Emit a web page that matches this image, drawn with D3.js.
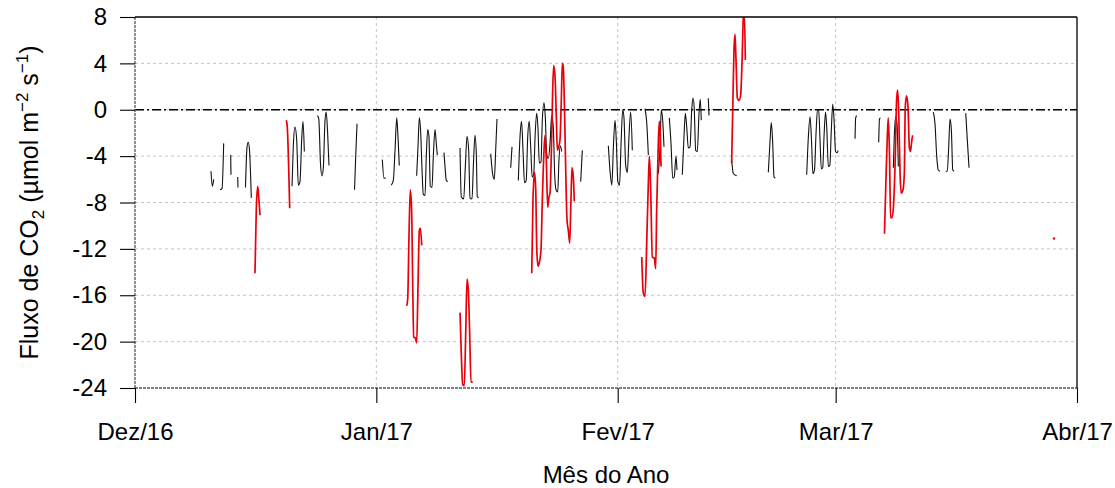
<!DOCTYPE html>
<html>
<head>
<meta charset="utf-8">
<script src="https://cdn.jsdelivr.net/npm/d3@7"></script>
<style>
    body { margin: 0; background: #fff; }
    text { font-family: "Liberation Sans", Arial, sans-serif; }
</style>
</head>
<body>
<div id="chart"></div>
<script>
///// DATOS //////
//Meses del eje X
let mesesLabels = ['Dez/16', 'Jan/17', 'Fev/17', 'Mar/17', 'Abr/17'];
let mesesFechas = ['2016-12-01', '2017-01-01', '2017-02-01', '2017-03-01', '2017-04-01'];
let yTicks = [-24, -20, -16, -12, -8, -4, 0, 4, 8];

//Fluxo observado (preto) > segmentos [dias desde 01/12/2016, µmol m-2 s-1]
let fluxoPreto = [
    [[9.76,-5.3],[9.93,-6.6],[10.11,-6.0]],
    [[10.92,-6.9],[11.18,-6.8],[11.39,-2.9]],
    [[12.29,-3.9],[12.33,-5.6]],
    [[13.19,-5.8],[13.23,-6.7]],
    [[14.19,-6.7],[14.39,-3.2],[14.55,-2.8],[14.71,-3.5],[14.94,-7.6]],
    [[20.17,-6.6],[20.33,-3.2],[20.55,-1.5],[20.77,-2.6],[20.98,-6.5],[21.19,-6.2],[21.41,-2.6],[21.58,-1.0],[21.75,-3.6]],
    [[23.44,-0.5],[23.61,-0.8],[23.83,-4.7],[24.02,-5.7],[24.19,-5.0],[24.41,-0.9],[24.56,-0.2],[24.73,-1.8],[24.92,-4.8]],
    [[28.20,-6.9],[28.35,-4.0],[28.52,-1.2]],
    [[31.77,-4.3],[31.98,-5.9],[32.20,-5.9]],
    [[32.92,-6.5],[33.18,-6.1],[33.40,-3.5],[33.62,-0.7],[33.78,-2.3],[33.95,-4.8]],
    [[36.18,-5.7],[36.35,-3.2],[36.52,-0.7],[36.70,-2.0],[36.87,-5.2],[37.03,-7.3],[37.25,-7.4],[37.42,-4.0],[37.60,-1.7],[37.76,-2.3],[37.93,-6.6],[38.15,-6.7],[38.32,-4.0],[38.54,-1.7],[38.70,-2.9],[38.83,-3.9]],
    [[39.69,-3.7],[39.82,-4.9],[39.99,-6.1],[40.17,-6.2]],
    [[41.75,-3.3],[41.91,-7.5],[42.22,-7.7],[42.43,-4.9],[42.65,-2.3],[42.86,-3.5],[43.03,-7.6],[43.29,-7.7],[43.46,-4.9],[43.67,-2.2],[43.84,-3.8],[43.97,-7.5],[44.15,-7.6]],
    [[45.69,-3.8],[45.95,-5.6],[46.15,-6.0],[46.33,-3.5],[46.50,-0.8]],
    [[48.26,-5.0],[48.43,-3.2]],
    [[49.24,-6.1],[49.45,-2.4],[49.65,-1.0],[49.84,-3.5],[50.03,-6.3],[50.25,-6.1],[50.44,-2.4],[50.64,-1.0],[50.83,-3.3],[51.02,-5.8],[51.21,-5.6],[51.41,-2.0],[51.60,-0.3],[51.77,-1.7],[51.93,-4.6],[52.15,-4.5],[52.32,-0.9],[52.54,0.6],[52.70,-0.6],[52.88,-3.8],[53.09,-4.2],[53.31,-2.9],[53.52,-0.5],[53.73,-1.5],[53.91,-5.6],[54.08,-6.9],[54.30,-7.1],[54.46,-4.3],[54.63,-3.1],[54.81,-3.6]],
    [[57.25,-6.2],[57.46,-3.5]],
    [[60.80,-3.1],[61.01,-5.2],[61.25,-6.5],[61.46,-3.0],[61.66,-0.9],[61.82,-2.6],[62.02,-6.2],[62.24,-6.5],[62.43,-3.0],[62.65,0.0],[62.81,-0.7],[63.03,-4.8],[63.24,-5.4],[63.46,-2.2],[63.67,-0.2],[63.88,-3.5]],
    [[65.51,0.1],[65.73,-1.1],[65.94,-3.9]],
    [[67.22,-5.5],[67.44,-3.2],[67.60,0.0],[67.78,-0.9],[67.95,-3.2]],
    [[68.63,-0.7],[68.85,-2.9],[69.07,-5.9],[69.27,-5.8],[69.49,-4.0],[69.62,-5.2]],
    [[70.30,-5.6],[70.52,-2.3],[70.69,-0.3],[70.87,-1.5],[71.07,-3.3],[71.29,-3.2],[71.51,0.0],[71.68,1.0],[71.84,0.0],[72.02,-3.5],[72.23,-3.6],[72.45,-0.3],[72.61,0.9],[72.74,-0.9]],
    [[73.64,1.0],[73.73,-0.5]],
    [[76.64,-4.3],[76.85,-5.5],[77.29,-5.7]],
    [[81.35,-5.4],[81.57,-2.7],[81.73,-1.1],[81.91,-2.8],[82.08,-5.8],[82.25,-5.9]],
    [[86.28,-5.6],[86.49,-2.4],[86.71,-0.6],[86.90,-2.7],[87.07,-5.5],[87.28,-5.2],[87.48,-2.0],[87.67,0.0],[87.82,0.0],[87.99,-2.6],[88.16,-5.1],[88.34,-5.0],[88.50,-2.4],[88.70,-0.2],[88.86,-1.6],[89.06,-4.9],[89.25,-4.8],[89.44,-1.8],[89.63,0.5],[89.81,-1.1],[89.98,-3.6],[90.17,-3.7],[90.34,-3.5]],
    [[92.49,-2.5],[92.57,-0.7],[92.70,-0.5]],
    [[95.53,-2.8],[95.63,-0.8],[95.76,-0.7]],
    [[97.41,-5.0],[97.53,-2.3],[97.71,-0.6],[97.88,-1.2],[98.05,-4.9]],
    [[102.54,-0.2],[102.76,-1.2],[102.98,-4.0],[103.18,-5.2],[103.40,-5.3]],
    [[104.14,-5.3],[104.34,-5.3],[104.52,-3.2],[104.69,-0.8],[104.86,-1.7],[105.04,-5.2],[105.20,-5.3]],
    [[106.71,-0.3],[106.91,-2.6],[107.13,-5.0]]
];

//Fluxo preenchido (vermelho)
let fluxoVermelho = [
    [[15.41,-14.1],[15.58,-8.6],[15.76,-6.6],[15.89,-7.5],[16.06,-9.1]],
    [[19.44,-0.9],[19.56,-1.5],[19.87,-8.5]],
    [[34.90,-16.9],[35.03,-16.3],[35.20,-10.7],[35.36,-6.9],[35.54,-8.7],[35.67,-15.0],[35.80,-19.6],[36.01,-19.7],[36.18,-20.1],[36.35,-15.3],[36.52,-10.4],[36.65,-10.2],[36.83,-11.7]],
    [[41.75,-17.5],[41.91,-21.0],[42.09,-23.7],[42.30,-23.8],[42.48,-19.3],[42.65,-14.6],[42.81,-15.5],[42.99,-19.3],[43.16,-23.5],[43.38,-23.5]],
    [[50.96,-14.1],[51.12,-7.8],[51.32,-5.4],[51.47,-6.8],[51.61,-12.1],[51.77,-13.5],[51.93,-13.2],[52.15,-12.1],[52.32,-7.8],[52.54,-3.5],[52.67,-2.2],[52.83,-4.3],[53.01,-8.4],[53.18,-7.5],[53.31,-7.2],[53.47,-4.0],[53.65,1.7],[53.78,3.8],[53.95,2.9],[54.12,-0.6],[54.25,-3.5],[54.42,-3.2],[54.59,-2.6],[54.76,0.8],[54.89,4.0],[55.01,3.7],[55.19,-0.6],[55.36,-6.3],[55.49,-9.5],[55.66,-10.4],[55.84,-11.5],[56.00,-7.8],[56.13,-5.0],[56.30,-5.8],[56.43,-7.9]],
    [[65.09,-12.7],[65.29,-15.8],[65.51,-16.1],[65.73,-11.5],[65.94,-6.3],[66.07,-4.0],[66.24,-6.9],[66.45,-12.7],[66.71,-12.8],[66.88,-13.7],[67.01,-8.6],[67.22,-2.9],[67.35,-1.0],[67.48,-2.3],[67.57,-4.9]],
    [[76.64,-4.6],[76.78,0.0],[76.94,5.2],[77.07,6.5],[77.20,4.3],[77.37,1.0],[77.59,0.8],[77.80,1.3],[77.97,4.0],[78.14,7.9],[78.27,8.3],[78.40,4.3]],
    [[96.27,-10.7],[96.44,-6.5],[96.64,-2.2],[96.76,-0.7],[96.92,-4.0],[97.05,-9.3],[97.24,-9.3],[97.43,-8.3],[97.62,-5.0],[97.84,1.0],[97.97,1.7],[98.10,-0.2],[98.27,-5.5],[98.43,-7.2],[98.65,-6.9],[98.82,-5.5],[98.94,0.2],[99.10,1.2],[99.29,0.3],[99.46,-3.2],[99.61,-3.6],[99.77,-2.7],[99.89,-2.2]],
    [[118.05,-11.1]]
];

///// VISUALIZACIÓN DEL GRÁFICO //////
let margin = {top: 17, right: 38, bottom: 100, left: 135};
let width = 1115 - margin.left - margin.right,
    height = 488 - margin.top - margin.bottom;

let inicio = Date.UTC(2016, 11, 1);
function aFecha(dias) { return new Date(inicio + dias * 864e5); }

let svg = d3.select('#chart')
    .append('svg')
    .attr('width', 1115)
    .attr('height', 488);

let chart = svg.append('g')
    .attr('transform', 'translate(' + margin.left + ',' + margin.top + ')');

//Escalas
let x_c = d3.scaleUtc()
    .domain([new Date(mesesFechas[0]), new Date(mesesFechas[mesesFechas.length - 1])])
    .range([0, width]);

let y_c = d3.scaleLinear()
    .domain([-24, 8])
    .range([height, 0]);

//Rejilla
chart.append('g')
    .selectAll('line')
    .data(yTicks.filter(function(d) { return d > -24 && d < 8; }))
    .enter()
    .append('line')
    .attr('x1', 0).attr('x2', width)
    .attr('y1', function(d) { return y_c(d); })
    .attr('y2', function(d) { return y_c(d); })
    .attr('stroke', '#c4c4c4')
    .attr('stroke-dasharray', '3,3');

chart.append('g')
    .selectAll('line')
    .data(mesesFechas.slice(1, -1))
    .enter()
    .append('line')
    .attr('x1', function(d) { return x_c(new Date(d)); })
    .attr('x2', function(d) { return x_c(new Date(d)); })
    .attr('y1', 0).attr('y2', height)
    .attr('stroke', '#c4c4c4')
    .attr('stroke-dasharray', '3,3');

//Línea de cero
chart.append('line')
    .attr('x1', 0).attr('x2', width)
    .attr('y1', y_c(0)).attr('y2', y_c(0))
    .attr('stroke', '#000')
    .attr('stroke-width', 1.5)
    .attr('stroke-dasharray', '9,3,2,3');

//Clip del área del gráfico
svg.append('defs').append('clipPath')
    .attr('id', 'clip')
    .append('rect')
    .attr('width', width)
    .attr('height', height);

let line = d3.line()
    .x(function(d) { return x_c(aFecha(d[0])); })
    .y(function(d) { return y_c(d[1]); })
    .curve(d3.curveMonotoneX);

let series = chart.append('g').attr('clip-path', 'url(#clip)');

series.selectAll('.line-preto')
    .data(fluxoPreto)
    .enter()
    .append('path')
    .attr('class', 'line-preto')
    .attr('fill', 'none')
    .attr('stroke', '#111')
    .attr('stroke-width', 1.1)
    .attr('d', line);

series.selectAll('.line-vermelho')
    .data(fluxoVermelho.filter(function(s) { return s.length > 1; }))
    .enter()
    .append('path')
    .attr('class', 'line-vermelho')
    .attr('fill', 'none')
    .attr('stroke', '#e8000b')
    .attr('stroke-width', 1.7)
    .attr('d', line);

series.selectAll('.punto-vermelho')
    .data(fluxoVermelho.filter(function(s) { return s.length == 1; }))
    .enter()
    .append('circle')
    .attr('class', 'punto-vermelho')
    .attr('cx', function(s) { return x_c(aFecha(s[0][0])); })
    .attr('cy', function(s) { return y_c(s[0][1]); })
    .attr('r', 1.2)
    .attr('fill', '#e8000b');

//Marco: izquierda e inferior punteados oscuros, arriba y derecha continuos
chart.append('line')
    .attr('x1', 0).attr('x2', width).attr('y1', height).attr('y2', height)
    .attr('stroke', '#555').attr('stroke-width', 1.3).attr('stroke-dasharray', '3,1');
chart.append('line')
    .attr('x1', 0).attr('x2', 0).attr('y1', 0).attr('y2', height)
    .attr('stroke', '#555').attr('stroke-width', 1.3).attr('stroke-dasharray', '3,1');
chart.append('line')
    .attr('x1', 0).attr('x2', width).attr('y1', 0).attr('y2', 0)
    .attr('stroke', '#000').attr('stroke-width', 1.3);
chart.append('line')
    .attr('x1', width).attr('x2', width).attr('y1', 0).attr('y2', height)
    .attr('stroke', '#000').attr('stroke-width', 1.3);

//Eje Y
let y_cAxis = function(g) {
    g.call(d3.axisLeft(y_c).tickValues(yTicks).tickFormat(function(d) { return String(d); }).tickSize(15).tickPadding(13))
    g.call(function(g) { g.select('.domain').remove(); })
    g.call(function(g) {
        g.selectAll('.tick line').attr('stroke', '#000').attr('stroke-width', 1.1);
        g.selectAll('.tick text')
            .attr('font-size', '24px')
            .attr('font-family', '"Liberation Sans", Arial, sans-serif')
            .attr('fill', '#000');
    });
}
chart.append('g').call(y_cAxis);

//Eje X
let x_cAxis = function(g) {
    g.call(d3.axisBottom(x_c)
        .tickValues(mesesFechas.map(function(d) { return new Date(d); }))
        .tickFormat(function(d, i) { return mesesLabels[i]; })
        .tickSize(15).tickPadding(20))
    g.call(function(g) { g.select('.domain').remove(); })
    g.call(function(g) {
        g.selectAll('.tick line').attr('stroke', '#000').attr('stroke-width', 1.1);
        g.selectAll('.tick text')
            .attr('font-size', '24px')
            .attr('font-family', '"Liberation Sans", Arial, sans-serif')
            .attr('fill', '#000');
    });
}
chart.append('g')
    .attr('transform', 'translate(0,' + height + ')')
    .call(x_cAxis);

//Títulos de los ejes
svg.append('text')
    .attr('x', margin.left + width / 2)
    .attr('y', 483)
    .attr('text-anchor', 'middle')
    .attr('font-size', '24px')
    .text('Mês do Ano');

let yTitulo = svg.append('text')
    .attr('transform', 'translate(38,' + (margin.top + height / 2) + ') rotate(-90)')
    .attr('text-anchor', 'middle')
    .attr('font-size', '25px');
yTitulo.append('tspan').text('Fluxo de CO');
yTitulo.append('tspan').attr('font-size', '17px').attr('dy', 6).text('2');
yTitulo.append('tspan').attr('dy', -6).text(' (µmol m');
yTitulo.append('tspan').attr('font-size', '17px').attr('dy', -10).text('−2');
yTitulo.append('tspan').attr('dy', 10).text(' s');
yTitulo.append('tspan').attr('font-size', '17px').attr('dy', -10).text('−1');
yTitulo.append('tspan').attr('dy', 10).text(')');
</script>
</body>
</html>
